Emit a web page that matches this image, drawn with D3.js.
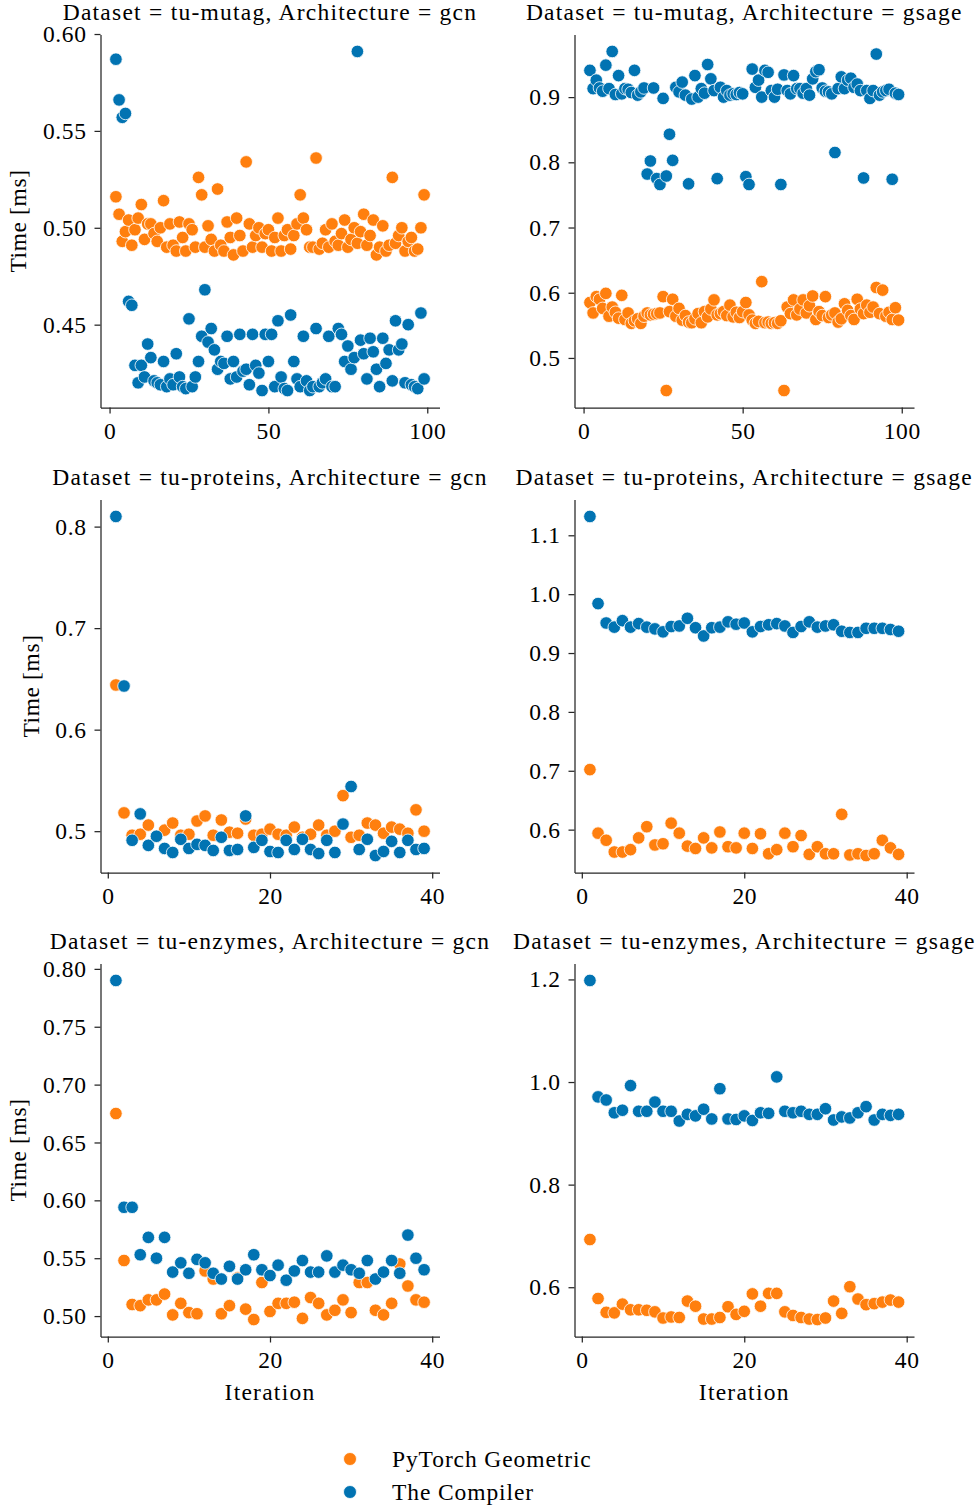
<!DOCTYPE html>
<html><head><meta charset="utf-8">
<script src="https://cdn.jsdelivr.net/npm/d3@7"></script>
<style>
body{margin:0;background:#fff}
svg{display:block}
text{font-family:"Liberation Serif","Times New Roman",serif;fill:#000}
</style>
</head><body>
<svg id="chart" width="976" height="1506"></svg>
<script>
// ---------- data ----------
const seriesNames = ["PyTorch Geometric", "The Compiler"];
const seriesColors = ["#ff7f0e", "#0173b2"];
const datasets = ["tu-mutag", "tu-proteins", "tu-enzymes"];
const architectures = ["gcn", "gsage"];

const itersLong = d3.range(2, 100);   // iterations 2..99
const itersShort = d3.range(1, 40);   // iterations 1..39

const mutagGcnPyG = [0.516,0.507,0.493,0.498,0.504,0.491,0.499,0.505,0.512,0.494,
0.502,0.502,0.497,0.493,0.500,0.514,0.490,0.502,0.491,0.488,
0.503,0.495,0.488,0.502,0.499,0.490,0.526,0.517,0.490,0.501,
0.494,0.488,0.520,0.491,0.488,0.503,0.495,0.486,0.505,0.496,
0.488,0.534,0.502,0.490,0.496,0.500,0.490,0.497,0.499,0.488,
0.495,0.505,0.488,0.496,0.499,0.489,0.496,0.502,0.517,0.505,
0.499,0.490,0.490,0.536,0.489,0.492,0.499,0.490,0.502,0.493,
0.491,0.497,0.504,0.490,0.494,0.500,0.492,0.498,0.507,0.491,
0.496,0.504,0.486,0.490,0.501,0.488,0.491,0.526,0.492,0.496,
0.500,0.488,0.493,0.495,0.488,0.489,0.500,0.517];
const mutagGcnCompiler = [0.587,0.566,0.557,0.559,0.462,0.460,
0.429,0.420,0.429,0.423,0.440,0.433,0.421,0.420,0.419,0.431,
0.418,0.422,0.419,0.435,0.423,0.418,0.417,0.453,0.418,0.423,
0.431,0.444,0.468,0.441,0.448,0.437,0.427,0.431,0.430,0.444,
0.422,0.431,0.423,0.445,0.426,0.427,0.419,0.445,0.429,0.425,
0.416,0.445,0.431,0.445,0.418,0.452,0.423,0.417,0.416,0.455,
0.431,0.422,0.418,0.444,0.421,0.416,0.418,0.448,0.418,0.420,
0.422,0.444,0.418,0.418,0.448,0.445,0.431,0.439,0.427,0.433,
0.591,0.442,0.435,0.422,0.443,0.436,0.427,0.418,0.443,0.430,
0.437,0.421,0.452,0.437,0.440,0.420,0.450,0.419,0.418,0.417,
0.456,0.422];
const mutagGsagePyG = [0.585,0.569,0.594,0.590,0.576,0.599,0.564,0.578,0.570,0.561,
0.596,0.559,0.569,0.553,0.557,0.560,0.553,0.564,0.569,0.566,
0.567,0.568,0.569,0.594,0.450,0.571,0.590,0.564,0.576,0.558,
0.565,0.555,0.554,0.560,0.568,0.554,0.571,0.563,0.575,0.589,
0.566,0.568,0.571,0.565,0.581,0.563,0.570,0.562,0.571,0.585,
0.566,0.558,0.553,0.556,0.617,0.554,0.555,0.553,0.554,0.553,
0.557,0.450,0.578,0.568,0.589,0.566,0.575,0.589,0.569,0.580,
0.595,0.559,0.571,0.565,0.594,0.562,0.566,0.569,0.555,0.560,
0.583,0.573,0.565,0.559,0.590,0.575,0.568,0.581,0.570,0.578,
0.608,0.568,0.604,0.564,0.570,0.559,0.577,0.558];
const mutagGsageCompiler = [0.941,0.913,0.926,0.914,0.909,0.949,0.913,0.970,0.904,0.933,
0.905,0.913,0.912,0.907,0.941,0.903,0.908,0.914,0.782,0.802,
0.914,0.775,0.766,0.898,0.779,0.843,0.803,0.915,0.908,0.923,
0.903,0.767,0.897,0.933,0.900,0.913,0.906,0.950,0.928,0.910,
0.775,0.915,0.900,0.910,0.903,0.905,0.904,0.907,0.905,0.778,
0.766,0.943,0.915,0.926,0.900,0.941,0.938,0.910,0.900,0.912,
0.766,0.934,0.910,0.905,0.933,0.913,0.913,0.906,0.913,0.903,
0.928,0.939,0.942,0.914,0.909,0.908,0.905,0.815,0.913,0.931,
0.913,0.926,0.929,0.915,0.920,0.910,0.776,0.910,0.898,0.910,
0.966,0.903,0.908,0.910,0.912,0.774,0.906,0.904];

const proteinsGcnPyG = [0.644,0.518,0.496,0.497,0.506,0.495,0.501,0.508,0.496,0.497,
0.510,0.515,0.496,0.511,0.499,0.498,0.512,0.496,0.497,0.502,
0.497,0.496,0.504,0.494,0.497,0.506,0.496,0.500,0.535,0.494,
0.496,0.508,0.506,0.498,0.504,0.502,0.498,0.521,0.500];
const proteinsGcnCompiler = [0.810,0.643,0.491,0.517,0.486,0.495,0.483,0.479,0.492,0.483,
0.487,0.486,0.481,0.494,0.481,0.482,0.515,0.484,0.491,0.480,
0.479,0.491,0.482,0.492,0.482,0.478,0.491,0.479,0.507,0.544,
0.482,0.492,0.476,0.480,0.490,0.479,0.491,0.482,0.483];
const proteinsGsagePyG = [0.702,0.594,0.582,0.562,0.562,0.566,0.586,0.605,0.574,0.576,
0.611,0.594,0.572,0.568,0.586,0.569,0.596,0.571,0.569,0.594,
0.568,0.593,0.559,0.566,0.594,0.571,0.590,0.558,0.571,0.559,
0.559,0.626,0.557,0.559,0.556,0.559,0.582,0.569,0.558];
const proteinsGsageCompiler = [1.132,0.984,0.951,0.944,0.955,0.944,0.950,0.944,0.941,0.936,
0.945,0.946,0.959,0.943,0.929,0.943,0.944,0.953,0.949,0.951,
0.936,0.945,0.948,0.950,0.946,0.935,0.945,0.953,0.944,0.946,
0.948,0.937,0.935,0.935,0.942,0.942,0.942,0.940,0.937];

const enzymesGcnPyG = [0.675,0.548,0.510,0.509,0.514,0.514,0.519,0.501,0.511,0.503,
0.502,0.539,0.532,0.502,0.509,0.533,0.506,0.497,0.529,0.504,
0.511,0.511,0.512,0.498,0.516,0.511,0.501,0.505,0.514,0.503,
0.529,0.529,0.505,0.501,0.511,0.545,0.526,0.514,0.512];
const enzymesGcnCompiler = [0.790,0.594,0.594,0.553,0.568,0.550,0.568,0.538,0.546,0.537,
0.549,0.546,0.537,0.532,0.543,0.532,0.540,0.553,0.540,0.535,
0.544,0.531,0.539,0.548,0.538,0.538,0.552,0.538,0.544,0.540,
0.537,0.548,0.532,0.538,0.548,0.537,0.570,0.550,0.540];
const enzymesGsagePyG = [0.693,0.578,0.551,0.550,0.567,0.556,0.556,0.555,0.552,0.540,
0.542,0.541,0.573,0.563,0.538,0.538,0.541,0.562,0.547,0.553,
0.587,0.563,0.588,0.588,0.552,0.545,0.541,0.538,0.537,0.540,
0.573,0.549,0.601,0.577,0.566,0.568,0.571,0.575,0.571];
const enzymesGsageCompiler = [1.198,0.971,0.965,0.940,0.945,0.993,0.943,0.943,0.961,0.943,
0.943,0.924,0.937,0.934,0.947,0.928,0.987,0.928,0.927,0.934,
0.925,0.940,0.939,1.010,0.943,0.940,0.943,0.937,0.937,0.948,
0.926,0.932,0.930,0.940,0.952,0.926,0.937,0.935,0.937];

const xTicksLong = [0, 50, 100];
const xTicksShort = [0, 20, 40];
const yTicksMutagGcn = [0.45, 0.50, 0.55, 0.60];
const yTicksMutagGsage = [0.5, 0.6, 0.7, 0.8, 0.9];
const yTicksProteinsGcn = [0.5, 0.6, 0.7, 0.8];
const yTicksProteinsGsage = [0.6, 0.7, 0.8, 0.9, 1.0, 1.1];
const yTicksEnzymesGcn = [0.50, 0.55, 0.60, 0.65, 0.70, 0.75, 0.80];
const yTicksEnzymesGsage = [0.6, 0.8, 1.0, 1.2];

// ---------- layout ----------
const colX = [[100.5, 439.5], [574.5, 914]];
const rowY = [[34.5, 407.5], [499.5, 872.5], [963.5, 1336.5]];
const FONT = 23.5;
const LS_WORD = "1.25px";
const LS_NUM = "0.6px";
const axisColor = "#262626";

const panels = [
  {d:0,a:0,iters:itersLong, s:[mutagGcnPyG, mutagGcnCompiler], xt:xTicksLong, yt:yTicksMutagGcn, yf:".2f"},
  {d:0,a:1,iters:itersLong, s:[mutagGsagePyG, mutagGsageCompiler], xt:xTicksLong, yt:yTicksMutagGsage, yf:".1f"},
  {d:1,a:0,iters:itersShort, s:[proteinsGcnPyG, proteinsGcnCompiler], xt:xTicksShort, yt:yTicksProteinsGcn, yf:".1f"},
  {d:1,a:1,iters:itersShort, s:[proteinsGsagePyG, proteinsGsageCompiler], xt:xTicksShort, yt:yTicksProteinsGsage, yf:".1f"},
  {d:2,a:0,iters:itersShort, s:[enzymesGcnPyG, enzymesGcnCompiler], xt:xTicksShort, yt:yTicksEnzymesGcn, yf:".2f"},
  {d:2,a:1,iters:itersShort, s:[enzymesGsagePyG, enzymesGsageCompiler], xt:xTicksShort, yt:yTicksEnzymesGsage, yf:".1f"}
];

const svg = d3.select("#chart");

function padded(ext) {
  const r = ext[1] - ext[0];
  return [ext[0] - 0.05 * r, ext[1] + 0.05 * r];
}

panels.forEach(p => {
  const [x0, x1] = colX[p.a];
  const [y0, y1] = rowY[p.d];
  const xs = d3.scaleLinear().domain(padded(d3.extent(p.iters))).range([x0, x1]);
  const yAll = p.s[0].concat(p.s[1]);
  const ys = d3.scaleLinear().domain(padded(d3.extent(yAll))).range([y1, y0]);
  const g = svg.append("g");

  // axes
  const gx = g.append("g").attr("transform", `translate(0,${y1})`)
    .call(d3.axisBottom(xs).tickValues(p.xt).tickFormat(d3.format("d")).tickSize(6).tickSizeOuter(0).tickPadding(9));
  const gy = g.append("g").attr("transform", `translate(${x0},0)`)
    .call(d3.axisLeft(ys).tickValues(p.yt).tickFormat(d3.format(p.yf)).tickSize(6).tickSizeOuter(0).tickPadding(8));
  [gx, gy].forEach(ax => {
    ax.select(".domain").attr("stroke", axisColor).attr("stroke-width", 1.25);
    ax.selectAll(".tick line").attr("stroke", axisColor).attr("stroke-width", 1.25);
    ax.selectAll(".tick text").attr("font-size", FONT).attr("font-family", null)
      .style("letter-spacing", LS_NUM).style("fill", "#000");
  });

  // points: series in order, PyG first, Compiler on top
  p.s.forEach((vals, si) => {
    g.append("g").selectAll("circle").data(vals).join("circle")
      .attr("cx", (v, i) => xs(p.iters[i]))
      .attr("cy", v => ys(v))
      .attr("r", 6.3)
      .attr("fill", seriesColors[si])
      .attr("stroke", "#fff")
      .attr("stroke-width", 0.8);
  });

  // title
  g.append("text")
    .attr("x", (x0 + x1) / 2).attr("y", y0 - 15)
    .attr("text-anchor", "middle").attr("font-size", FONT)
    .style("letter-spacing", LS_WORD)
    .text(`Dataset = ${datasets[p.d]}, Architecture = ${architectures[p.a]}`);

  // y label on left column
  if (p.a === 0) {
    const bb = gy.node().getBBox();
    const cx = x0 + bb.x - 25;
    const cy = (y0 + y1) / 2;
    g.append("text")
      .attr("transform", `translate(${cx},${cy}) rotate(-90)`)
      .attr("text-anchor", "middle").attr("dy", "0.35em").attr("font-size", FONT)
      .style("letter-spacing", "0.6px")
      .text("Time [ms]");
  }
  // x label on bottom row
  if (p.d === 2) {
    g.append("text")
      .attr("x", (x0 + x1) / 2).attr("y", y1 + 63)
      .attr("text-anchor", "middle").attr("font-size", FONT)
      .style("letter-spacing", LS_WORD)
      .text("Iteration");
  }
});

// legend
const leg = svg.append("g");
seriesNames.forEach((name, i) => {
  const cy = 1459 + i * 33;
  leg.append("circle").attr("cx", 350).attr("cy", cy).attr("r", 6.5)
    .attr("fill", seriesColors[i]).attr("stroke", "#fff").attr("stroke-width", 0.8);
  leg.append("text").attr("x", 392).attr("y", cy).attr("dy", "0.35em")
    .attr("font-size", FONT).style("letter-spacing", "0.9px").text(name);
});
</script>
</body></html>
